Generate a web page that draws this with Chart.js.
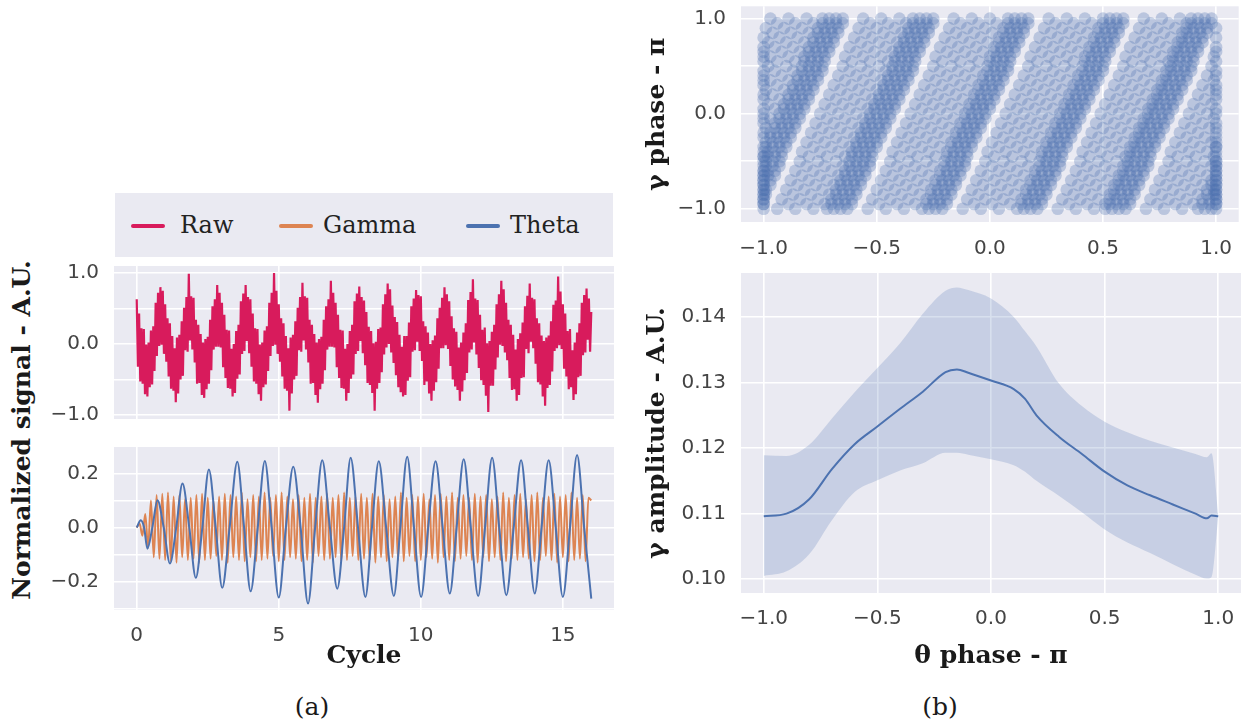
<!DOCTYPE html>
<html><head><meta charset="utf-8">
<script src="https://cdn.jsdelivr.net/npm/chart.js@4.4.1/dist/chart.umd.min.js"></script>
<style>
body{margin:0;width:1245px;height:727px;background:#fff;position:relative;overflow:hidden;font-family:"DejaVu Serif",serif;}
canvas{position:absolute;}
.t{position:absolute;white-space:nowrap;color:#1a1a1a;}
#legend{position:absolute;left:115px;top:193px;width:498px;height:64px;background:#eaeaf2;}
.sw{position:absolute;height:4px;border-radius:2px;}
.lt{position:absolute;font-size:24px;line-height:24px;top:20px;color:#222;}
</style></head><body>
<div id="legend"></div>
<div class="t" id="ylab" style="left:21px;top:430px;transform:translate(-50%,-50%) rotate(-90deg);font-weight:bold;font-size:25px;">Normalized signal - A.U.</div>
<div class="t" style="left:312px;top:706px;transform:translate(-50%,-50%);font-size:25px;">(a)</div>
<div class="t" style="left:940px;top:706px;transform:translate(-50%,-50%);font-size:25px;">(b)</div>
<canvas id="c1" width="580" height="160" style="left:40px;top:262px"></canvas>
<canvas id="c2" width="580" height="250" style="left:40px;top:440px"></canvas>
<canvas id="c3" width="615" height="262" style="left:630px;top:0px"></canvas>
<canvas id="c4" width="615" height="420" style="left:630px;top:262px"></canvas>
<script>
// ---------- data ----------
const seriesNames = ['Raw', 'Gamma', 'Theta'];
const seriesColors = ['#d81b5c', '#dd8452', '#4c72b0'];

// raw signal, sampled every 1/24 cycle
const rawStep = 1 / 24;
const rawValues = [
 .63,-.32,.43,-.53,.22,-.56,.21,-.71,-.01,-.74,.02,-.61,.19,-.57,.25,-.38,.58,-.17,.72,-.03,.80,-.01,.75,-.14,
 .56,-.25,.36,-.46,.29,-.63,.11,-.66,-.06,-.82,.09,-.70,.13,-.50,.32,-.45,.51,-.09,.66,-.11,.99,.05,.67,-.08,
 .65,-.26,.34,-.56,.27,-.55,.14,-.72,.02,-.76,.07,-.64,.10,-.56,.34,-.37,.53,-.08,.63,-.04,.83,-.04,.72,-.05,
 .58,-.33,.41,-.48,.20,-.62,.19,-.63,-.07,-.74,.00,-.69,.18,-.49,.27,-.43,.60,-.14,.71,-.10,.83,.04,.66,-.13,
 .63,-.32,.43,-.53,.22,-.56,.21,-.71,-.01,-.80,.02,-.61,.19,-.57,.25,-.38,.58,-.17,.72,-.03,1.00,-.01,.75,-.14,
 .56,-.25,.36,-.46,.29,-.63,.11,-.66,-.06,-.94,.09,-.70,.13,-.50,.32,-.45,.51,-.09,.66,-.11,.86,.05,.67,-.08,
 .65,-.26,.34,-.56,.27,-.55,.14,-.72,.02,-.83,.07,-.64,.10,-.56,.34,-.37,.53,-.08,.63,-.04,.89,-.04,.72,-.05,
 .58,-.33,.41,-.48,.20,-.62,.19,-.63,-.07,-.80,.00,-.69,.18,-.49,.27,-.43,.60,-.14,.71,-.10,.81,.04,.66,-.13,
 .61,-.30,.45,-.55,.24,-.58,.18,-.69,.01,-.94,.03,-.63,.21,-.55,.23,-.40,.56,-.15,.70,-.05,.85,.00,.77,-.12,
 .54,-.27,.38,-.44,.31,-.61,.13,-.68,-.04,-.74,.11,-.72,.11,-.52,.30,-.47,.53,-.11,.64,-.09,.76,.03,.69,-.10,
 .67,-.24,.32,-.58,.25,-.53,.16,-.70,.00,-.80,.05,-.66,.12,-.54,.36,-.35,.51,-.06,.65,-.06,.80,-.02,.70,-.07,
 .60,-.31,.39,-.50,.22,-.60,.17,-.65,-.05,-.80,.02,-.67,.16,-.51,.29,-.41,.62,-.12,.73,-.08,.91,.02,.64,-.15,
 .62,-.34,.41,-.51,.20,-.58,.23,-.73,.01,-.96,.04,-.59,.17,-.59,.27,-.36,.56,-.19,.70,-.01,.89,-.03,.77,-.12,
 .58,-.23,.34,-.48,.27,-.65,.13,-.64,-.08,-.80,.07,-.72,.15,-.48,.30,-.47,.53,-.07,.68,-.13,.85,.03,.65,-.06,
 .63,-.28,.36,-.54,.29,-.57,.12,-.74,.04,-.87,.09,-.62,.12,-.58,.32,-.39,.55,-.10,.61,-.06,.95,-.02,.74,-.07,
 .56,-.35,.43,-.46,.18,-.64,.21,-.61,-.09,-.79,.02,-.71,.16,-.47,.29,-.45,.58,-.16,.69,-.12,.78,.06,.64,-.11,
 .45];

// gamma-band signal: alternating peaks/troughs every 0.1 cycle
const gammaStep = 0.1;
const gammaValues = [
 0,0.015,-0.03,0.05,-0.075,0.10,-0.11,0.12,-0.115,0.125,
 -0.12,0.13,-0.125,0.115,-0.13,0.12,-0.11,0.105,-0.12,0.11,
 -0.115,0.12,-0.13,0.125,-0.12,0.11,-0.115,0.10,-0.105,0.115,
 -0.12,0.125,-0.13,0.12,-0.11,0.115,-0.12,0.13,-0.125,0.105,
 -0.11,0.12,-0.125,0.115,-0.12,0.13,-0.115,0.11,-0.105,0.12,
 -0.125,0.13,-0.12,0.115,-0.11,0.105,-0.115,0.12,-0.125,0.11,
 -0.12,0.125,-0.13,0.11,-0.105,0.115,-0.12,0.125,-0.115,0.11,
 -0.11,0.12,-0.125,0.13,-0.12,0.11,-0.105,0.115,-0.12,0.125,
 -0.115,0.11,-0.12,0.125,-0.13,0.115,-0.11,0.12,-0.125,0.105,
 -0.11,0.115,-0.12,0.13,-0.125,0.11,-0.105,0.12,-0.125,0.115,
 -0.12,0.125,-0.11,0.105,-0.115,0.12,-0.13,0.125,-0.11,0.115,
 -0.12,0.13,-0.125,0.11,-0.115,0.12,-0.105,0.11,-0.12,0.125,
 -0.13,0.115,-0.11,0.12,-0.125,0.105,-0.11,0.115,-0.12,0.13,
 -0.125,0.11,-0.115,0.12,-0.12,0.125,-0.11,0.105,-0.115,0.12,
 -0.125,0.13,-0.12,0.11,-0.105,0.115,-0.12,0.125,-0.13,0.115,
 -0.11,0.12,-0.125,0.13,-0.12,0.11,-0.115,0.12,-0.125,0.11,
 0.10];

// theta-band signal: extrema and zero crossings
const thetaCycle = [0,0.14,0.26,0.375,0.55,0.73,0.95,1.17,1.39,1.61,1.85,2.08,2.31,2.54,2.78,3.01,3.27,3.54,3.78,4.01,4.26,4.51,4.75,5.0,5.25,5.51,5.77,6.03,6.28,6.53,6.8,7.06,7.3,7.53,7.79,8.05,8.28,8.52,8.78,9.05,9.28,9.52,9.76,10.01,10.26,10.52,10.77,11.02,11.26,11.51,11.76,12.02,12.26,12.51,12.76,13.01,13.27,13.53,13.77,14.01,14.25,14.5,14.75,15.0,15.25,15.5,15.75,16.0];
const thetaValues = [0,0.027,0,-0.078,0,0.101,0,-0.133,0,0.163,0,-0.186,0,0.215,0,-0.223,0,0.243,0,-0.236,0,0.246,0,-0.259,0,0.225,0,-0.281,0,0.249,0,-0.226,0,0.258,0,-0.257,0,0.245,0,-0.253,0,0.262,0,-0.257,0,0.245,0,-0.244,0,0.253,0,-0.253,0,0.258,0,-0.25,0,0.249,0,-0.244,0,0.249,0,-0.257,0,0.268,0,-0.263];

// phase-phase scatter: gamma phase rows, theta phase positions (in 1/100 of pi)
const gammaPhaseRows = [-1,-0.95,-0.9,-0.85,-0.8,-0.75,-0.7,-0.65,-0.6,-0.55,-0.5,-0.45,-0.4,-0.35,-0.3,-0.25,-0.2,-0.15,-0.1,-0.05,0,0.05,0.1,0.15,0.2,0.25,0.3,0.35,0.4,0.45,0.5,0.55,0.6,0.65,0.7,0.75,0.8,0.85,0.9,0.95,1];
const thetaPhaseRows = [
[-100,-94,-86,-78,-72,-69,-66,-63,-54,-46,-38,-30,-27,-24,-21,-12,-4,4,12,15,18,21,30,38,46,51,54,57,60,69,77,85,92,95,98,100],
[-100,-100,-89,-81,-73,-70,-67,-64,-61,-49,-41,-33,-28,-25,-22,-19,-7,1,9,14,17,20,23,35,43,51,53,56,59,62,74,82,90,94,97,100,100],
[-100,-100,-92,-84,-76,-70,-67,-64,-61,-52,-44,-36,-28,-25,-22,-19,-10,-2,6,14,17,20,23,32,40,48,53,56,59,62,71,79,87,94,97,100,100],
[-100,-100,-99,-87,-79,-71,-68,-65,-62,-59,-47,-39,-31,-26,-23,-20,-17,-5,3,11,16,19,22,25,37,45,53,55,58,61,64,76,84,92,96,99,100,100],
[-100,-100,-99,-90,-82,-74,-68,-65,-62,-59,-50,-42,-34,-26,-23,-20,-17,-8,0,8,16,19,22,25,34,42,50,55,58,61,64,73,81,89,96,99,100,100],
[-100,-100,-97,-85,-77,-69,-66,-63,-60,-57,-45,-37,-29,-24,-21,-18,-15,-3,5,13,18,21,24,27,39,47,55,57,60,63,66,78,86,94,98,100,100],
[-100,-100,-97,-88,-80,-72,-66,-63,-60,-57,-48,-40,-32,-24,-21,-18,-15,-6,2,10,18,21,24,27,36,44,52,57,60,63,66,75,83,91,98,100,100],
[-100,-100,-98,-95,-83,-75,-67,-64,-61,-58,-55,-43,-35,-27,-22,-19,-16,-13,-1,7,15,20,23,26,29,41,49,57,59,62,65,68,80,88,96,100,100],
[-100,-100,-98,-95,-86,-78,-70,-64,-61,-58,-55,-46,-38,-30,-22,-19,-16,-13,-4,4,12,20,23,26,29,38,46,54,59,62,65,68,77,85,93,100,100],
[-100,-99,-96,-93,-81,-73,-65,-62,-59,-56,-53,-41,-33,-25,-20,-17,-14,-11,1,9,17,22,25,28,31,43,51,59,61,64,67,70,82,90,98,100,100],
[-100,-99,-96,-93,-84,-76,-68,-62,-59,-56,-53,-44,-36,-28,-20,-17,-14,-11,-2,6,14,22,25,28,31,40,48,56,61,64,67,70,79,87,95,100,100],
[-100,-100,-98,-95,-92,-80,-72,-64,-61,-58,-55,-52,-40,-32,-24,-19,-16,-13,-10,2,10,18,23,26,29,32,44,52,60,62,65,68,71,83,91,99,100],
[-100,-98,-95,-92,-83,-75,-67,-61,-58,-55,-52,-43,-35,-27,-19,-16,-13,-10,-1,7,15,23,26,29,32,41,49,57,62,65,68,71,80,88,96,100],
[-100,-99,-96,-93,-90,-78,-70,-62,-59,-56,-53,-50,-38,-30,-22,-17,-14,-11,-8,4,12,20,25,28,31,34,46,54,62,64,67,70,73,85,93,100,100],
[-99,-96,-93,-90,-81,-73,-65,-59,-56,-53,-50,-41,-33,-25,-17,-14,-11,-8,1,9,17,25,28,31,34,43,51,59,64,67,70,73,82,90,98,100],
[-100,-97,-94,-91,-88,-76,-68,-60,-57,-54,-51,-48,-36,-28,-20,-15,-12,-9,-6,6,14,22,27,30,33,36,48,56,64,66,69,72,75,87,95,100],
[-100,-97,-94,-91,-88,-79,-71,-63,-57,-54,-51,-48,-39,-31,-23,-15,-12,-9,-6,3,11,19,27,30,33,36,45,53,61,66,69,72,75,84,92,100],
[-99,-95,-92,-89,-86,-74,-66,-58,-55,-52,-49,-46,-34,-26,-18,-13,-10,-7,-4,8,16,24,29,32,35,38,50,58,66,68,71,74,77,89,97,100],
[-100,-95,-92,-89,-86,-77,-69,-61,-55,-52,-49,-46,-37,-29,-21,-13,-10,-7,-4,5,13,21,29,32,35,38,47,55,63,68,71,74,77,86,94,100],
[-100,-97,-93,-90,-87,-84,-72,-64,-56,-53,-50,-47,-44,-32,-24,-16,-11,-8,-5,-2,10,18,26,31,34,37,40,52,60,68,70,73,76,79,91,99],
[-100,-93,-90,-87,-84,-75,-67,-59,-53,-50,-47,-44,-35,-27,-19,-11,-8,-5,-2,7,15,23,31,34,37,40,49,57,65,70,73,76,79,88,96,100],
[-100,-95,-91,-88,-85,-82,-70,-62,-54,-51,-48,-45,-42,-30,-22,-14,-9,-6,-3,0,12,20,28,33,36,39,42,54,62,70,72,75,78,81,93,100],
[-98,-91,-88,-85,-82,-73,-65,-57,-51,-48,-45,-42,-33,-25,-17,-9,-6,-3,0,9,17,25,33,36,39,42,51,59,67,72,75,78,81,90,98],
[-100,-93,-89,-86,-83,-80,-68,-60,-52,-49,-46,-43,-40,-28,-20,-12,-7,-4,-1,2,14,22,30,35,38,41,44,56,64,72,74,77,80,83,95,100],
[-100,-96,-89,-86,-83,-80,-71,-63,-55,-49,-46,-43,-40,-31,-23,-15,-7,-4,-1,2,11,19,27,35,38,41,44,53,61,69,74,77,80,83,92,100],
[-99,-91,-87,-84,-81,-78,-66,-58,-50,-47,-44,-41,-38,-26,-18,-10,-5,-2,1,4,16,24,32,37,40,43,46,58,66,74,76,79,82,85,97,100],
[-100,-94,-87,-84,-81,-78,-69,-61,-53,-47,-44,-41,-38,-29,-21,-13,-5,-2,1,4,13,21,29,37,40,43,46,55,63,71,76,79,82,85,94,100],
[-100,-97,-89,-85,-82,-79,-76,-64,-56,-48,-45,-42,-39,-36,-24,-16,-8,-3,0,3,6,18,26,34,39,42,45,48,60,68,76,78,81,84,87,99],
[-100,-92,-85,-82,-79,-76,-67,-59,-51,-45,-42,-39,-36,-27,-19,-11,-3,0,3,6,15,23,31,39,42,45,48,57,65,73,78,81,84,87,96,100],
[-100,-95,-87,-83,-80,-77,-74,-62,-54,-46,-43,-40,-37,-34,-22,-14,-6,-1,2,5,8,20,28,36,41,44,47,50,62,70,78,80,83,86,89,100],
[-98,-90,-83,-80,-77,-74,-65,-57,-49,-43,-40,-37,-34,-25,-17,-9,-1,2,5,8,17,25,33,41,44,47,50,59,67,75,80,83,86,89,98],
[-100,-94,-86,-82,-79,-76,-73,-61,-53,-45,-42,-39,-36,-33,-21,-13,-5,0,3,6,9,21,29,37,42,45,48,51,63,71,79,81,84,87,90,100],
[-100,-97,-89,-82,-79,-76,-73,-64,-56,-48,-42,-39,-36,-33,-24,-16,-8,0,3,6,9,18,26,34,42,45,48,51,60,68,76,81,84,87,90,99],
[-100,-92,-84,-80,-77,-74,-71,-59,-51,-43,-40,-37,-34,-31,-19,-11,-3,2,5,8,11,23,31,39,44,47,50,53,65,73,81,83,86,89,92,100],
[-100,-95,-87,-80,-77,-74,-71,-62,-54,-46,-40,-37,-34,-31,-22,-14,-6,2,5,8,11,20,28,36,44,47,50,53,62,70,78,83,86,89,92,100],
[-98,-90,-82,-78,-75,-72,-69,-57,-49,-41,-38,-35,-32,-29,-17,-9,-1,4,7,10,13,25,33,41,46,49,52,55,67,75,83,85,88,91,94],
[-100,-93,-85,-78,-75,-72,-69,-60,-52,-44,-38,-35,-32,-29,-20,-12,-4,4,7,10,13,22,30,38,46,49,52,55,64,72,80,85,88,91,94,100],
[-96,-88,-80,-76,-73,-70,-67,-55,-47,-39,-36,-33,-30,-27,-15,-7,1,6,9,12,15,27,35,43,48,51,54,57,69,77,85,87,90,93,96],
[-99,-91,-83,-76,-73,-70,-67,-58,-50,-42,-36,-33,-30,-27,-18,-10,-2,6,9,12,15,24,32,40,48,51,54,57,66,74,82,87,90,93,96,100],
[-94,-86,-78,-74,-71,-68,-65,-53,-45,-37,-34,-31,-28,-25,-13,-5,3,8,11,14,17,29,37,45,50,53,56,59,71,79,87,89,92,95,98],
[-97,-89,-81,-74,-71,-68,-65,-56,-48,-40,-34,-31,-28,-25,-16,-8,0,8,11,14,17,26,34,42,50,53,56,59,68,76,84,89,92,95,98]
];

// gamma amplitude vs theta phase
const thetaPhase = [-1.0,-0.9,-0.8,-0.7,-0.6,-0.5,-0.4,-0.3,-0.2,-0.15,-0.1,0.0,0.1,0.15,0.2,0.3,0.4,0.5,0.6,0.7,0.8,0.9,0.95,0.97,1.0];
const ampMean  = [0.1096,0.1100,0.1122,0.1168,0.1206,0.1233,0.1260,0.1286,0.1316,0.1320,0.1315,0.1303,0.1290,0.1275,0.1250,0.1217,0.1191,0.1164,0.1143,0.1128,0.1114,0.1100,0.1093,0.1097,0.1096];
const ampUpper = [0.1189,0.1188,0.1205,0.1245,0.1285,0.1322,0.1360,0.1405,0.1440,0.1445,0.1441,0.1428,0.1400,0.1378,0.1355,0.1298,0.1264,0.1240,0.1224,0.1211,0.1201,0.1191,0.1186,0.1192,0.1097];
const ampLower = [0.1005,0.1012,0.1038,0.1090,0.1133,0.1151,0.1166,0.1177,0.1193,0.1193,0.1190,0.1183,0.1174,0.1164,0.1150,0.1127,0.1102,0.1076,0.1056,0.1040,0.1023,0.1007,0.1001,0.1003,0.1095];

// ticks
const cycleTicks = [0,5,10,15];
const cycleTickLabels = ['0','5','10','15'];
const rawTicks = [-1,-0.5,0,0.5,1];
const rawTickLabels = ['\u22121.0','','0.0','','1.0'];
const bandTicks = [-0.3,-0.2,-0.1,0,0.1,0.2];
const bandTickLabels = ['','\u22120.2','','0.0','','0.2'];
const phaseTicks = [-1,-0.5,0,0.5,1];
const phaseTickLabels = ['\u22121.0','\u22120.5','0.0','0.5','1.0'];
const gPhaseTickLabels = ['\u22121.0','','0.0','','1.0'];
const ampTicks = [0.10,0.11,0.12,0.13,0.14];
const ampTickLabels = ['0.10','0.11','0.12','0.13','0.14'];

// ---------- legend ----------
const legendSwatchX = [16, 164, 351];
const legendTextX = [65, 208, 395];
const legend = document.getElementById('legend');
seriesNames.forEach((n, i) => {
  const sw = document.createElement('div');
  sw.className = 'sw';
  sw.style.cssText = `left:${legendSwatchX[i]}px;top:31px;width:34px;background:${seriesColors[i]}`;
  legend.appendChild(sw);
  const t = document.createElement('div');
  t.className = 'lt';
  t.style.left = legendTextX[i] + 'px';
  t.textContent = n;
  legend.appendChild(t);
});

// ---------- chart helpers ----------
Chart.defaults.font.family = 'DejaVu Sans';
Chart.defaults.font.size = 20;
Chart.defaults.color = '#444';
Chart.defaults.animation = false;
Chart.defaults.devicePixelRatio = 1;

const bgPlugin = {
  id: 'bg',
  beforeDraw(chart) {
    const {ctx, chartArea: a} = chart;
    ctx.save();
    ctx.fillStyle = '#eaeaf2';
    ctx.fillRect(a.left, a.top, a.right - a.left, a.bottom - a.top);
    ctx.restore();
  }
};
// softens the dense cloud of translucent markers
const softPlugin = {
  id: 'soft',
  beforeDatasetsDraw(chart) { chart.ctx.save(); chart.ctx.filter = 'blur(0.7px)'; },
  afterDatasetsDraw(chart) { chart.ctx.restore(); }
};

function axis(min, max, tickVals, tickLabels, size, opts = {}) {
  return Object.assign({
    type: 'linear', min, max,
    afterBuildTicks: s => { s.ticks = tickVals.map(v => ({value: v})); },
    afterFit: s => {
      if (s.isHorizontal()) s.height = size; else s.width = size;
      s.paddingLeft = 0; s.paddingRight = 0; s.paddingTop = 0; s.paddingBottom = 0;
    },
    grid: {color: '#ffffff', lineWidth: 1.6, drawTicks: false},
    border: {display: false},
    ticks: {
      display: tickLabels !== null,
      autoSkip: false, maxRotation: 0, padding: 14,
      callback: (v, i) => tickLabels ? tickLabels[i] : ''
    }
  }, opts);
}
const titleFont = {family: 'DejaVu Serif', weight: 'bold', size: 25};
const basePlugins = {legend: {display: false}, tooltip: {enabled: false}};

// ---------- (a) top: raw ----------
new Chart(document.getElementById('c1'), {
  type: 'line',
  data: {datasets: [{
    label: seriesNames[0],
    data: rawValues.map((v, i) => ({x: i * rawStep, y: v})),
    borderColor: seriesColors[0], borderWidth: 2.2, pointRadius: 0, tension: 0
  }]},
  options: {
    responsive: false,
    layout: {padding: {left: 0, right: 6, top: 4, bottom: 0}},
    plugins: basePlugins,
    scales: {
      x: axis(-0.8, 16.8, cycleTicks, null, 3),
      y: axis(-1.058, 1.098, rawTicks, rawTickLabels, 74, {ticks: {autoSkip: false, padding: 15, callback: (v, i) => rawTickLabels[i]}})
    }
  },
  plugins: [bgPlugin]
});

// ---------- (a) bottom: gamma & theta ----------
new Chart(document.getElementById('c2'), {
  type: 'line',
  data: {datasets: [
    {label: seriesNames[2], data: thetaCycle.map((c, i) => ({x: c, y: thetaValues[i]})),
     borderColor: seriesColors[2], borderWidth: 2, pointRadius: 0, cubicInterpolationMode: 'monotone', order: 0},
    {label: seriesNames[1], data: gammaValues.map((v, i) => ({x: i * gammaStep, y: v})),
     borderColor: seriesColors[1], borderWidth: 2, pointRadius: 0, cubicInterpolationMode: 'monotone', order: 1}
  ]},
  options: {
    responsive: false,
    layout: {padding: {left: 0, right: 6, top: 7, bottom: 0}},
    plugins: basePlugins,
    scales: {
      x: axis(-0.8, 16.8, cycleTicks, cycleTickLabels, 80, {
        title: {display: true, text: 'Cycle', font: titleFont, color: '#1a1a1a', padding: {top: 0, bottom: 19}}
      }),
      y: axis(-0.305, 0.298, bandTicks, bandTickLabels, 74, {ticks: {autoSkip: false, padding: 15, callback: (v, i) => bandTickLabels[i]}})
    }
  },
  plugins: [bgPlugin]
});

// ---------- (b) top: phase-phase scatter ----------
const scatterPoints = [];
gammaPhaseRows.forEach((gy, r) => thetaPhaseRows[r].forEach(px => scatterPoints.push({x: px / 100, y: gy})));
new Chart(document.getElementById('c3'), {
  type: 'scatter',
  data: {datasets: [{
    data: scatterPoints, pointRadius: 6.3, borderWidth: 0,
    backgroundColor: 'rgba(76,114,176,0.30)'
  }]},
  options: {
    responsive: false,
    layout: {padding: {left: 0, right: 4, top: 0, bottom: 0}},
    plugins: basePlugins,
    scales: {
      x: axis(-1.1, 1.1, phaseTicks, phaseTickLabels, 40, {ticks: {autoSkip: false, maxRotation: 0, padding: 15, callback: (v, i) => phaseTickLabels[i]}}),
      y: axis(-1.14, 1.13, phaseTicks, gPhaseTickLabels, 111, {
        ticks: {autoSkip: false, padding: 15, callback: (v, i) => gPhaseTickLabels[i]},
        title: {display: true, text: '\u03b3 phase - \u03c0', font: titleFont, color: '#1a1a1a', padding: {top: 12, bottom: 0}}
      })
    }
  },
  plugins: [bgPlugin, softPlugin]
});

// ---------- (b) bottom: gamma amplitude vs theta phase ----------
new Chart(document.getElementById('c4'), {
  type: 'line',
  data: {datasets: [
    {label: 'mean', data: thetaPhase.map((p, i) => ({x: p, y: ampMean[i]})),
     borderColor: seriesColors[2], borderWidth: 2, pointRadius: 0, cubicInterpolationMode: 'monotone', fill: false},
    {label: 'upper', data: thetaPhase.map((p, i) => ({x: p, y: ampUpper[i]})),
     borderWidth: 0, borderColor: 'rgba(0,0,0,0)', pointRadius: 0, cubicInterpolationMode: 'monotone',
     fill: '+1', backgroundColor: 'rgba(76,114,176,0.22)'},
    {label: 'lower', data: thetaPhase.map((p, i) => ({x: p, y: ampLower[i]})),
     borderWidth: 0, borderColor: 'rgba(0,0,0,0)', pointRadius: 0, cubicInterpolationMode: 'monotone', fill: false}
  ]},
  options: {
    responsive: false,
    layout: {padding: {left: 0, right: 4, top: 11, bottom: 0}},
    plugins: basePlugins,
    scales: {
      x: axis(-1.1, 1.1, phaseTicks, phaseTickLabels, 89, {
        ticks: {autoSkip: false, maxRotation: 0, padding: 14, callback: (v, i) => phaseTickLabels[i]},
        title: {display: true, text: '\u03b8 phase - \u03c0', font: titleFont, color: '#1a1a1a', padding: {top: 0, bottom: 11}}
      }),
      y: axis(0.0979, 0.1467, ampTicks, ampTickLabels, 111, {
        ticks: {autoSkip: false, padding: 15, callback: (v, i) => ampTickLabels[i]},
        title: {display: true, text: '\u03b3 amplitude - A.U.', font: titleFont, color: '#1a1a1a', padding: {top: 12, bottom: 0}}
      })
    }
  },
  plugins: [bgPlugin]
});
</script>
</body></html>
